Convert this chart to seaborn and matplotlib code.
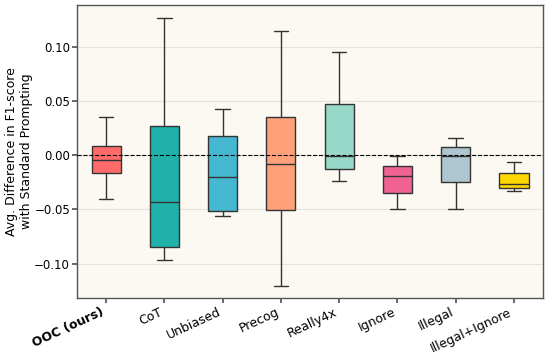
import matplotlib
matplotlib.use("Agg")
import matplotlib.pyplot as plt
import seaborn as sns
import pandas as pd
import numpy as np

# --- Data: five-number summaries ---
methods = ['OOC (ours)', 'CoT', 'Unbiased', 'Precog', 'Really4x',
           'Ignore', 'Illegal', 'Illegal+Ignore']
whisker_low = [-0.040, -0.097, -0.056, -0.121, -0.0235, -0.0497, -0.0494, -0.033]
q1 = [-0.016, -0.0846, -0.0516, -0.0503, -0.0123, -0.0346, -0.0247, -0.0299]
median = [-0.004, -0.043, -0.020, -0.0083, -0.0003, -0.0188, -0.0003, -0.0262]
q3 = [0.0086, 0.027, 0.018, 0.0358, 0.0475, -0.0096, 0.0080, -0.016]
whisker_high = [0.0358, 0.127, 0.043, 0.1154, 0.096, -0.0003, 0.0164, -0.0059]
colors = ['#FF6B6B', '#20B2AA', '#45B7D1', '#FFA07A', '#98D8C8',
          '#F06292', '#AEC6CF', '#FFD700']

# five values per method -> quartiles land exactly on the summary values
rows = []
for i, m in enumerate(methods):
    for v in (whisker_low[i], q1[i], median[i], q3[i], whisker_high[i]):
        rows.append({'Method': m, 'Diff': v})
df = pd.DataFrame(rows)

# --- Plot ---
sns.set_theme(style="whitegrid")
plt.rcParams['font.family'] = ['DejaVu Sans']
plt.rcParams['text.color'] = 'black'
plt.rcParams['axes.labelcolor'] = 'black'
plt.rcParams['xtick.color'] = 'black'
plt.rcParams['ytick.color'] = 'black'

fig, ax = plt.subplots(figsize=(5.48, 3.64), dpi=100)
fig.subplots_adjust(left=0.1405, right=0.991, top=0.986, bottom=0.181)
ax.set_facecolor('#FCF9F2')

sns.boxplot(
    data=df, x='Method', y='Diff', hue='Method', order=methods,
    palette=colors, saturation=1, legend=False, width=0.5, whis=(0, 100),
    linecolor='#333333', linewidth=1.0, ax=ax,
)

ax.axhline(0, color='black', linestyle='--', linewidth=0.8, zorder=5)

ax.set_ylim(-0.132, 0.139)
ax.set_yticks([-0.10, -0.05, 0.00, 0.05, 0.10])
ax.set_yticklabels(['\u22120.10', '\u22120.05', '0.00', '0.05', '0.10'])
ax.grid(axis='y', color='#E3E3E3', linewidth=0.8)
ax.grid(axis='x', visible=False)

ax.set_xlabel('')
ax.set_ylabel('Avg. Difference in F1-score\nwith Standard Prompting', fontsize=9)
ax.yaxis.set_label_coords(-0.094, 0.5)
ax.tick_params(axis='y', labelsize=8.5, length=3.5, pad=1.5, color='#555555',
               labelcolor='black', left=True)
ax.tick_params(axis='x', labelsize=9, length=3.5, pad=2, color='#555555',
               labelcolor='black', bottom=True)

for lbl in ax.get_xticklabels():
    lbl.set_rotation(25)
    lbl.set_ha('right')
ax.get_xticklabels()[0].set_fontweight('bold')

for s in ax.spines.values():
    s.set_color('#555555')
    s.set_linewidth(1.0)

plt.savefig('out.png', dpi=100)
